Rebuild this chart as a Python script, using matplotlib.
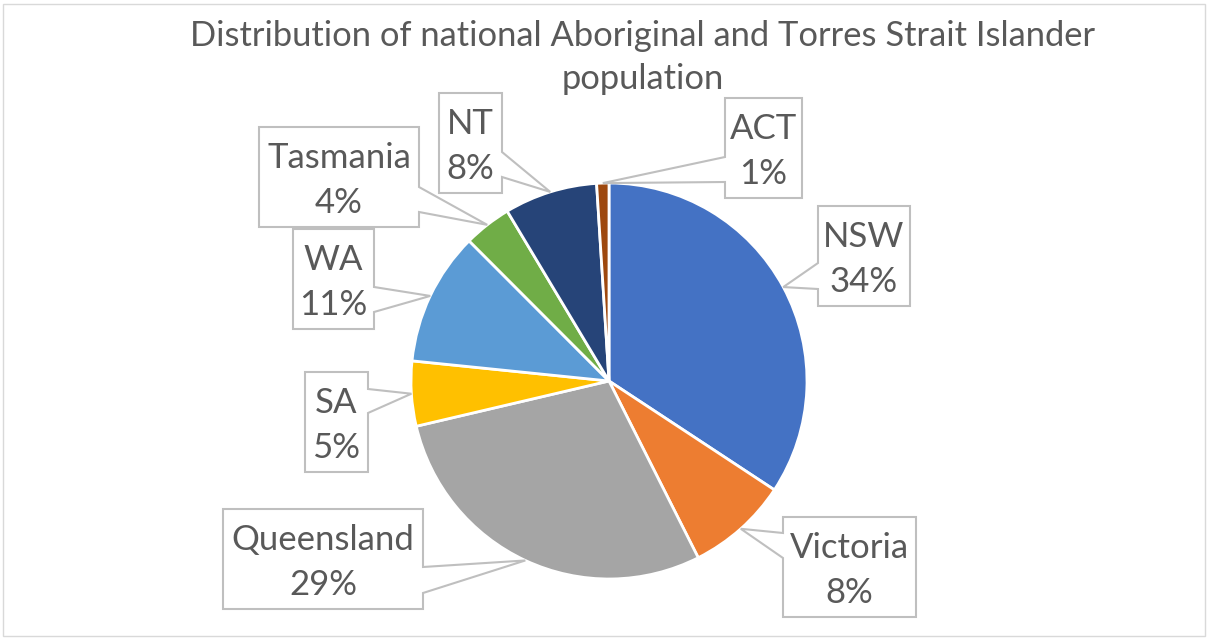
import matplotlib
matplotlib.use("Agg")
import matplotlib.pyplot as plt
from matplotlib.patches import Polygon, Rectangle
import numpy as np

# ---- data ----
states = ["NSW", "Victoria", "Queensland", "SA", "WA", "Tasmania", "NT", "ACT"]
shares = [34.3, 8.3, 28.8, 5.3, 10.9, 3.9, 7.6, 1.0]
colors = ["#4472C4", "#ED7D31", "#A5A5A5", "#FFC000", "#5B9BD5", "#70AD47", "#264478", "#9E480E"]
title = "Distribution of national Aboriginal and Torres Strait Islander\npopulation"

# ---- layout (pixel coords, y from top) ----
W, H = 1209, 640
cx, cy, R = 609, 381, 198
# box: left, top, right, bottom, side of pointer, pointer base y0, y1
boxes = {
    "NSW":        (818, 206, 910, 306, "left", 263, 289),
    "Victoria":   (783, 517, 916, 617, "left", 533, 558),
    "Queensland": (223, 509, 423, 609, "right", 567, 593),
    "SA":         (305, 372, 368, 472, "right", 389, 413),
    "WA":         (293, 229, 374, 329, "right", 287, 312),
    "Tasmania":   (259, 127, 419, 227, "right", 187, 212),
    "NT":         (439, 93, 502, 193, "right", 152, 177),
    "ACT":        (725, 98, 802, 198, "left", 157, 182),
}

plt.rcParams['font.family'] = ['Lato', 'DejaVu Sans']
fig = plt.figure(figsize=(W / 100, H / 100), dpi=100)
ax = fig.add_axes([0, 0, 1, 1])
ax.set_xlim(0, W)
ax.set_ylim(0, H)
ax.set_aspect('equal')
ax.axis('off')

def Y(y):
    return H - y

wedges, _ = ax.pie(shares, colors=colors, startangle=90, counterclock=False,
                   center=(cx, Y(cy)), radius=R, frame=True,
                   wedgeprops=dict(edgecolor='white', linewidth=2.0))
ax.set_xlim(0, W)
ax.set_ylim(0, H)
ax.axis('off')

txtcol = "#595959"
edgecol = "#BFBFBF"
for w, name, val in zip(wedges, states, shares):
    mid = np.deg2rad((w.theta1 + w.theta2) / 2)
    tx = cx + R * np.cos(mid)
    ty = Y(cy) + R * np.sin(mid)
    L, T, Rr, B, side, y0, y1 = boxes[name]
    if side == "right":
        pts = [(L, T), (Rr, T), (Rr, y0), None, (Rr, y1), (Rr, B), (L, B)]
    else:
        pts = [(L, T), (Rr, T), (Rr, B), (L, B), (L, y1), None, (L, y0)]
    verts = [(tx, ty) if p is None else (p[0], Y(p[1])) for p in pts]
    ax.add_patch(Polygon(verts, closed=True, facecolor='white', edgecolor=edgecol,
                         linewidth=1.5, zorder=5, joinstyle='miter'))
    xc = (L + Rr) / 2
    ax.text(xc, Y(T + 41), name, ha='center', va='baseline', fontsize=25,
            color=txtcol, zorder=6)
    ax.text(xc, Y(T + 86), f"{round(val)}%", ha='center', va='baseline', fontsize=25,
            color=txtcol, zorder=6)

# title
l1, l2 = title.split("\n")
ax.text(643, Y(46), l1, ha='center', va='baseline', fontsize=24.8, color=txtcol)
ax.text(643, Y(89), l2, ha='center', va='baseline', fontsize=24.8, color=txtcol)

# chart border
ax.add_patch(Rectangle((3, Y(636)), 1202, 632, facecolor='none', edgecolor='#D9D9D9',
                       linewidth=1.0, zorder=0))

fig.savefig("out.png", dpi=100)
